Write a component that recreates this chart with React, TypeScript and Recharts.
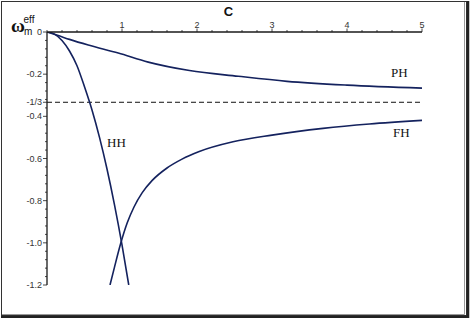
import { LineChart, Line, XAxis, YAxis, ReferenceLine } from "recharts";

// values
const PH_C = [0, 0.15, 0.3, 0.55, 0.95, 1.35, 1.9, 2.55, 3.2, 4.0, 5.0];
const PH_W = [0, -0.017, -0.035, -0.062, -0.1, -0.143, -0.183, -0.21, -0.234, -0.252, -0.266];

const FH_C = [0.84, 0.9, 0.985, 1.07, 1.16, 1.27, 1.4, 1.6, 1.8, 2.03, 2.48, 3.0, 3.68, 4.3, 5.0];
const FH_W = [-1.2, -1.115, -1.0, -0.905, -0.83, -0.762, -0.705, -0.645, -0.603, -0.567, -0.521, -0.489, -0.457, -0.436, -0.419];

const HH_C = [0, 0.1, 0.2, 0.3, 0.4, 0.5, 0.6, 0.7, 0.8, 0.9, 1.0, 1.09];
const HH_W = [0, -0.01, -0.04, -0.09, -0.16, -0.26, -0.37, -0.5, -0.65, -0.82, -1.01, -1.2];

const X_LABELS = [1, 2, 3, 4, 5];
const Y_LABELS = [0, -0.2, -1 / 3, -0.4, -0.6, -0.8, -1.0, -1.2];
const Y_TEXT = ["0", "-0.2", "-1/3", "-0.4", "-0.6", "-0.8", "-1.0", "-1.2"];

const DASH_LEVEL = -1 / 3;

const toPoints = (c: number[], w: number[]) => c.map((x, i) => ({ x, y: w[i] }));

const phData = toPoints(PH_C, PH_W);
const fhData = toPoints(FH_C, FH_W);
const hhData = toPoints(HH_C, HH_W);

// minor ticks (no labels)
const xTicks: number[] = [];
for (let i = 0; i <= 25; i++) xTicks.push(Math.round(i * 0.2 * 100) / 100);
const yTicks: number[] = [];
for (let i = 0; i <= 30; i++) yTicks.push(-Math.round(i * 0.04 * 100) / 100);
yTicks.push(-1 / 3);

const CURVE = "#14225e";
const AXIS = "#1a1a1a";
const TICK_FONT = "'Liberation Sans', Arial, sans-serif";
const SERIF = "'Liberation Serif', 'Times New Roman', serif";

const same = (a: number, b: number) => Math.abs(a - b) < 1e-6;

const XTick = (props: any) => {
  const { x, y, payload } = props;
  const v = payload.value as number;
  const major = X_LABELS.some((m) => same(m, v));
  return (
    <g>
      <line x1={x} x2={x} y1={y} y2={y - (major ? 3.5 : 2)} stroke={AXIS} strokeWidth={0.8} />
      {major && (
        <text x={x} y={y - 4} textAnchor="middle" fontSize={9} fontFamily={TICK_FONT} fill="#333">
          {v}
        </text>
      )}
    </g>
  );
};

const YTick = (props: any) => {
  const { x, y, payload } = props;
  const v = payload.value as number;
  const idx = Y_LABELS.findIndex((m) => same(m, v));
  const major = idx >= 0;
  return (
    <g>
      <line x1={x} x2={x - (major ? 4 : 2)} y1={y} y2={y} stroke={AXIS} strokeWidth={0.8} />
      {major && (
        <text x={x - 5} y={y + 3} textAnchor="end" fontSize={9} fontFamily={TICK_FONT} fill="#333">
          {Y_TEXT[idx]}
        </text>
      )}
    </g>
  );
};

export default function App() {
  return (
    <div style={{ position: "absolute", left: 0, top: 0, width: 470, height: 318, background: "#fff" }}>
      <LineChart width={470} height={318} margin={{ top: 0, right: 48, bottom: 33, left: 0 }}>
        <XAxis
          dataKey="x"
          type="number"
          orientation="top"
          domain={[0, 5]}
          ticks={xTicks}
          interval={0}
          height={32}
          tickSize={0}
          tickMargin={0}
          tick={<XTick />}
          axisLine={{ stroke: AXIS, strokeWidth: 1.3 }}
          allowDataOverflow
        />
        <YAxis
          type="number"
          domain={[-1.2, 0]}
          ticks={yTicks}
          interval={0}
          width={47}
          tickSize={0}
          tickMargin={0}
          tick={<YTick />}
          axisLine={{ stroke: AXIS, strokeWidth: 1.3 }}
          allowDataOverflow
        />
        <ReferenceLine y={DASH_LEVEL} stroke="#111" strokeWidth={1} strokeDasharray="5 3" />
        <Line data={phData} dataKey="y" type="monotone" stroke={CURVE} strokeWidth={1.6} dot={false} isAnimationActive={false} />
        <Line data={fhData} dataKey="y" type="monotone" stroke={CURVE} strokeWidth={1.6} dot={false} isAnimationActive={false} />
        <Line data={hhData} dataKey="y" type="monotone" stroke={CURVE} strokeWidth={1.6} dot={false} isAnimationActive={false} />
      </LineChart>
      <svg width={470} height={318} style={{ position: "absolute", left: 0, top: 0, pointerEvents: "none" }}>
        <rect x={1.5} y={1.5} width={465} height={314} fill="none" stroke="#333" strokeWidth={1} />
        <line x1={464.5} y1={2} x2={464.5} y2={314.5} stroke="#999" strokeWidth={1} />
        <line x1={2} y1={314.5} x2={464.5} y2={314.5} stroke="#999" strokeWidth={1} />
        <line x1={468} y1={1} x2={468} y2={318} stroke="#222" strokeWidth={2.5} />
        <line x1={1} y1={317} x2={469} y2={317} stroke="#222" strokeWidth={2.5} />
        <text x={228.5} y={16} textAnchor="middle" fontSize={13} fontWeight="bold" fontFamily={TICK_FONT} fill="#111">
          C
        </text>
        <text x={11} y={31.5} fontSize={19} fontWeight="bold" fontFamily={SERIF} fill="#111">
          ω
        </text>
        <text x={23.5} y={22.5} fontSize={10} fontFamily={TICK_FONT} fill="#111">
          eff
        </text>
        <text x={24} y={35} fontSize={10} fontFamily={TICK_FONT} fill="#111">
          m
        </text>
        <text x={391} y={77} fontSize={13} fontFamily={SERIF} fill="#111">
          PH
        </text>
        <text x={393} y={137} fontSize={13} fontFamily={SERIF} fill="#111">
          FH
        </text>
        <text x={107} y={146.5} fontSize={13} fontFamily={SERIF} fill="#111">
          HH
        </text>
      </svg>
    </div>
  );
}
